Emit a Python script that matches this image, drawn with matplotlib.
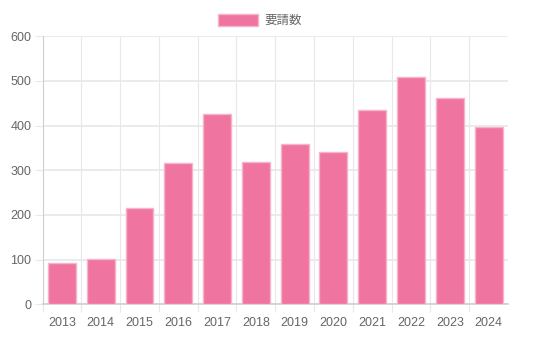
import matplotlib
matplotlib.use('Agg')
import matplotlib.pyplot as plt

plt.rcParams['font.family'] = ['Liberation Sans', 'Noto Sans CJK JP', 'DejaVu Sans']

years = ['2013', '2014', '2015', '2016', '2017', '2018',
         '2019', '2020', '2021', '2022', '2023', '2024']
requests = [92, 101, 215, 316, 426, 318, 359, 341, 435, 509, 462, 397]
series_label = '要請数'
y_ticks = [0, 100, 200, 300, 400, 500, 600]

BAR_FACE = '#ef74a0'
BAR_EDGE = '#f6b3cb'
GRID = '#e8e8e8'
AXIS = '#cfcfcf'
TEXT = '#666666'

W, H = 536, 338
fig = plt.figure(figsize=(W / 100, H / 100), dpi=100)
ax = fig.add_axes([42.5 / W, (H - 304.3) / H, (508 - 42.5) / W, (304.3 - 36.3) / H])

pos = list(range(len(years)))
ax.bar(pos, requests, width=0.72, color=BAR_FACE, edgecolor=BAR_EDGE,
       linewidth=1.0, label=series_label, zorder=3)

ax.set_xlim(-0.5, len(years) - 0.5)
ax.set_ylim(0, 600)

# category labels in the middle, grid lines between categories
ax.set_xticks(pos)
ax.set_xticklabels(years)
ax.tick_params(axis='x', which='major', length=0, pad=9, labelsize=9, labelcolor=TEXT)
ax.set_xticks([p - 0.5 for p in pos], minor=True)
ax.tick_params(axis='x', which='minor', length=6, width=0.8, color=GRID)
ax.grid(axis='x', which='minor', color=GRID, linewidth=0.8, zorder=0)

ax.set_yticks(y_ticks)
ax.tick_params(axis='y', length=6, width=0.8, color=GRID, pad=2, labelsize=9, labelcolor=TEXT)
ax.grid(axis='y', which='major', color=GRID, linewidth=1.2, zorder=0)

for s in ('top', 'right'):
    ax.spines[s].set_visible(False)
ax.spines['left'].set_color(AXIS)
ax.spines['left'].set_linewidth(0.8)
ax.spines['bottom'].set_color(AXIS)
ax.spines['bottom'].set_linewidth(1.2)

# legend sits centred above the plot
fig.legend(loc='center', bbox_to_anchor=(260 / W, (H - 20.5) / H), frameon=False,
           handlelength=3.2, handleheight=1.05, handletextpad=0.5,
           fontsize=9, labelcolor=TEXT, borderpad=0, borderaxespad=0)

fig.savefig('out.png', dpi=100)
